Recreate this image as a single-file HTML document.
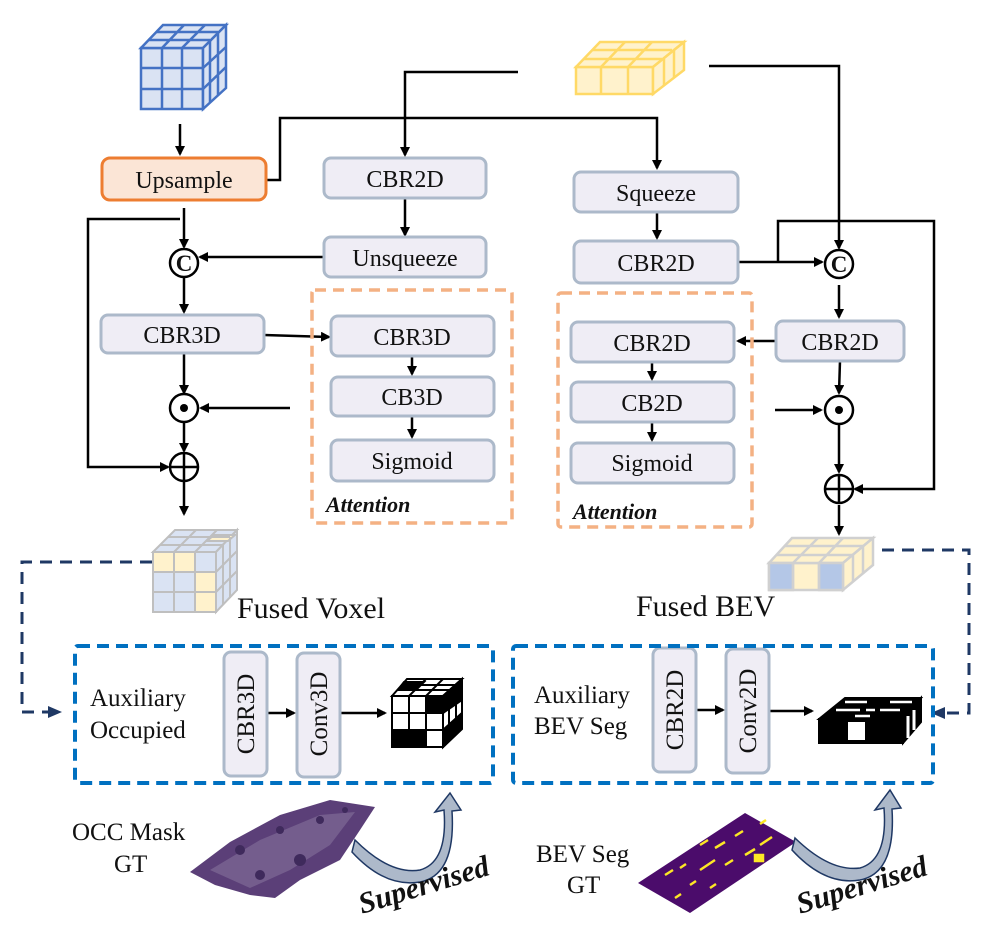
<!DOCTYPE html>
<html><head><meta charset="utf-8"><style>
html,body{margin:0;padding:0;background:#fff;width:997px;height:931px;overflow:hidden}
text{font-family:"Liberation Serif",serif;fill:#111}
</style></head><body>
<svg width="997" height="931" viewBox="0 0 997 931" xmlns="http://www.w3.org/2000/svg">
<defs>
<marker id="a" markerWidth="10" markerHeight="10" refX="8" refY="5" orient="auto" markerUnits="userSpaceOnUse"><path d="M0,0 L10,5 L0,10 Z" fill="#000"/></marker>
<marker id="n" markerWidth="14" markerHeight="12" refX="12" refY="6" orient="auto" markerUnits="userSpaceOnUse"><path d="M0,0 L14,6 L0,12 Z" fill="#1f3864"/></marker>
</defs>
<g stroke="#4472c4" stroke-width="2.5" fill="#dae3f3">
<path d="M141,48 L203,48 L203,109 L141,109 Z"/>
<path d="M141,48 L163,25 L226,25 L203,48 Z"/>
<path d="M203,48 L226,25 L226,88 L203,109 Z"/>
<path d="M162,48V109M182,48V109M141,68H203M141,89H203M148,40H210M156,32H218M162,48L184,25M182,48L205,25M210,41V102M218,33V95M203,68L226,47M203,89L226,67" fill="none"/>
</g>
<g stroke="#ffd966" stroke-width="2.5" fill="#fff2cc">
<path d="M576,67 L653,67 L653,94 L576,94 Z"/>
<path d="M576,67 L600,42 L684,42 L653,67 Z"/>
<path d="M653,67 L684,42 L684,70 L653,94 Z"/>
<path d="M601,67V94M628,67V94M584,59H662M592,50H672M601,67L625,42M628,67L652,42M664,59V86M674,50V78" fill="none"/>
</g>
<g stroke="#000" stroke-width="2.5" fill="none">
<path d="M518,72 H405 V155" marker-end="url(#a)"/>
<path d="M267,180 H280 V118 H657 V168" marker-end="url(#a)"/>
<path d="M709,66 H839 V248" marker-end="url(#a)"/>
<path d="M180,124 V154" marker-end="url(#a)"/>
<path d="M184,208 V247" marker-end="url(#a)"/>
<path d="M180,219 H88 V467 H168" marker-end="url(#a)"/>
<path d="M323,257 H200" marker-end="url(#a)"/>
<path d="M405,198 V235" marker-end="url(#a)"/>
<path d="M184,278 V312" marker-end="url(#a)"/>
<path d="M264,335 L329,337" marker-end="url(#a)"/>
<path d="M184,353 L184,393" marker-end="url(#a)"/>
<path d="M290,408 H201" marker-end="url(#a)"/>
<path d="M184,423 V451" marker-end="url(#a)"/>
<path d="M184,482 V514" marker-end="url(#a)"/>
<path d="M412,356 V374" marker-end="url(#a)"/>
<path d="M412,416 V437" marker-end="url(#a)"/>
<path d="M657,212 V238" marker-end="url(#a)"/>
<path d="M738,262 H822" marker-end="url(#a)"/>
<path d="M778,262 V221 H934 V489 H855" marker-end="url(#a)"/>
<path d="M839,285 V317" marker-end="url(#a)"/>
<path d="M776,341 H738" marker-end="url(#a)"/>
<path d="M840,361 L839,393" marker-end="url(#a)"/>
<path d="M775,410 H821" marker-end="url(#a)"/>
<path d="M839,425 V472" marker-end="url(#a)"/>
<path d="M839,505 V534" marker-end="url(#a)"/>
<path d="M652,362 V379" marker-end="url(#a)"/>
<path d="M652,422 V440" marker-end="url(#a)"/>
<path d="M267,713 H294" marker-end="url(#a)"/>
<path d="M340,713 H385" marker-end="url(#a)"/>
<path d="M696,710 H723" marker-end="url(#a)"/>
<path d="M769,711 H812" marker-end="url(#a)"/>
</g>
<g stroke="#000" stroke-width="2.5" fill="#fff">
<circle cx="184" cy="263" r="14"/><circle cx="839" cy="264" r="14"/>
<circle cx="184" cy="408" r="14"/><circle cx="839" cy="410" r="14"/>
<circle cx="184" cy="467" r="14"/><circle cx="839" cy="489" r="14"/>
</g>
<g font-weight="bold" font-size="23" text-anchor="middle">
<text x="184" y="271">C</text><text x="839" y="272">C</text>
</g>
<circle cx="184" cy="408" r="4" fill="#000"/><circle cx="839" cy="410" r="4" fill="#000"/>
<path d="M184,453V481M170,467H198M839,475V503M825,489H853" stroke="#000" stroke-width="2.5"/>
<rect x="312" y="290" width="200" height="233" rx="3" fill="none" stroke="#f4b183" stroke-width="3.5" stroke-dasharray="11,7"/>
<rect x="558" y="293" width="194" height="234" rx="3" fill="none" stroke="#f4b183" stroke-width="3.5" stroke-dasharray="11,7"/>
<rect x="102" y="158" width="164" height="42" rx="8" fill="#fbe5d6" stroke="#ed7d31" stroke-width="3"/>
<g fill="#efedf5" stroke="#acb9ca" stroke-width="3">
<rect x="324" y="158" width="162" height="40" rx="7"/>
<rect x="324" y="237" width="162" height="40" rx="7"/>
<rect x="101" y="315" width="163" height="38" rx="7"/>
<rect x="331" y="316" width="163" height="40" rx="7"/>
<rect x="331" y="377" width="163" height="39" rx="7"/>
<rect x="331" y="440" width="163" height="41" rx="7"/>
<rect x="574" y="172" width="164" height="40" rx="7"/>
<rect x="574" y="241" width="164" height="42" rx="7"/>
<rect x="776" y="321" width="128" height="40" rx="7"/>
<rect x="571" y="322" width="163" height="40" rx="7"/>
<rect x="571" y="382" width="163" height="40" rx="7"/>
<rect x="571" y="443" width="163" height="40" rx="7"/>
<rect x="224" y="652" width="43" height="124" rx="7"/>
<rect x="297" y="653" width="43" height="124" rx="7"/>
<rect x="653" y="648" width="43" height="124" rx="7"/>
<rect x="726" y="649" width="43" height="124" rx="7"/>
</g>
<g font-size="24" text-anchor="middle">
<text x="184" y="188">Upsample</text>
<text x="405" y="187">CBR2D</text>
<text x="405" y="266">Unsqueeze</text>
<text x="182" y="343">CBR3D</text>
<text x="412" y="345">CBR3D</text>
<text x="412" y="405">CB3D</text>
<text x="412" y="469">Sigmoid</text>
<text x="656" y="201">Squeeze</text>
<text x="656" y="271">CBR2D</text>
<text x="840" y="350">CBR2D</text>
<text x="652" y="351">CBR2D</text>
<text x="652" y="411">CB2D</text>
<text x="652" y="471">Sigmoid</text>
</g>
<g font-size="25" text-anchor="middle">
<text transform="translate(254,714) rotate(-90)">CBR3D</text>
<text transform="translate(327,714) rotate(-90)">Conv3D</text>
<text transform="translate(683,710) rotate(-90)">CBR2D</text>
<text transform="translate(756,711) rotate(-90)">Conv2D</text>
</g>
<g font-size="22" font-weight="bold" font-style="italic">
<text x="326" y="512">Attention</text>
<text x="573" y="519">Attention</text>
</g>
<g stroke="#bfbfbf" stroke-width="2" fill="#dae3f3">
<path d="M153,552 L216,552 L216,612 L153,612 Z"/>
<path d="M153,552 L175,530 L237,530 L216,552 Z"/>
<path d="M216,552 L237,530 L237,590 L216,612 Z"/>
<rect x="153" y="552" width="21" height="20" fill="#fff2cc"/><rect x="174" y="552" width="21" height="20" fill="#fff2cc"/>
<rect x="195" y="572" width="21" height="20" fill="#fff2cc"/><rect x="195" y="592" width="21" height="20" fill="#fff2cc"/>
<path d="M214,535 L235,535 L228,541 L207,541Z" fill="#fff2cc"/>
<path d="M174,552V612M195,552V612M153,572H216M153,592H216M160,545H223M168,537H230M174,552L196,530M195,552L217,530M223,545V605M230,537V598M216,572L237,551M216,592L237,571" fill="none"/>
</g>
<g stroke="#d0d0d0" stroke-width="2.5" fill="#fff2cc">
<path d="M769,563 L843,563 L843,590 L769,590 Z"/>
<path d="M769,563 L792,538 L873,538 L843,563 Z" />
<path d="M843,563 L873,538 L873,565 L843,590 Z"/>
<rect x="769" y="563" width="24" height="27" fill="#b4c7e7"/><rect x="819" y="563" width="24" height="27" fill="#b4c7e7"/>
<path d="M793,563V590M819,563V590M777,555H853M785,546H863M793,563L818,538M819,563L843,538M853,555V582M863,546V574" fill="none"/>
</g>
<g font-size="30">
<text x="237" y="618">Fused Voxel</text>
<text x="636" y="616">Fused BEV</text>
</g>
<path d="M152,562 H22 V712 H60" fill="none" stroke="#1f3864" stroke-width="3" stroke-dasharray="12,8" marker-end="url(#n)"/>
<path d="M882,550 H969 V713 H933" fill="none" stroke="#1f3864" stroke-width="3" stroke-dasharray="12,8" marker-end="url(#n)"/>
<rect x="75" y="646" width="418" height="137" rx="3" fill="none" stroke="#0070c0" stroke-width="4" stroke-dasharray="12,7"/>
<rect x="513" y="646" width="420" height="137" rx="3" fill="none" stroke="#0070c0" stroke-width="4" stroke-dasharray="12,7"/>
<g font-size="25">
<text x="90" y="706">Auxiliary</text><text x="90" y="738">Occupied</text>
<text x="534" y="703">Auxiliary</text><text x="534" y="734">BEV Seg</text>
<text x="72" y="840">OCC Mask</text><text x="114" y="872">GT</text>
<text x="536" y="862">BEV Seg</text><text x="567" y="893">GT</text>
</g>
<g stroke="#000" stroke-width="2" fill="#fff">
<path d="M392,696 L443,696 L443,747 L392,747 Z"/>
<path d="M392,696 L407,679 L462,679 L443,696 Z"/>
<path d="M443,696 L462,679 L462,729 L443,747 Z"/>
<rect x="392" y="730" width="34" height="17" fill="#000"/>
<rect x="426" y="696" width="17" height="17" fill="#000"/>
<path d="M404,682 L424,682 L416,690 L398,690Z" fill="#000"/>
<path d="M443,696 L462,679 L462,700 L443,713Z" fill="#000"/>
<path d="M443,730 L462,713 L462,729 L443,747Z" fill="#000"/>
<path d="M409,696V747M426,696V747M392,713H443M392,730H443M397,690H449M402,685H456M409,696L426,679M426,696L443,679M449,690V741M456,685V735M443,713L462,696M443,730L462,713" fill="none"/>
</g>
<g stroke="#000" stroke-width="2">
<path d="M819,719 L903,719 L903,743 L819,743 Z" fill="#000"/>
<path d="M819,719 L845,698 L921,698 L903,719 Z" fill="#000"/>
<path d="M903,719 L921,698 L921,722 L903,743 Z" fill="#000"/>
<rect x="847" y="721" width="19" height="20" fill="#fff"/>
<path d="M845,702H867M890,702H912M836,710H860M866,710H875M880,710H900M855,716H870" stroke="#fff" stroke-width="2.5"/>
<path d="M908,716V738M914,710V730" stroke="#fff" stroke-width="3"/>
</g>
<path d="M190,872 L230,842 L280,815 L330,800 L375,807 L360,830 L340,860 L300,880 L275,898 L250,895 L215,885 Z" fill="#5b3f78"/>
<path d="M210,870 L260,840 L320,815 L355,812 L330,845 L290,870 L250,888 Z" fill="#7a6592" opacity="0.8"/>
<g fill="#3f2a5c"><circle cx="240" cy="850" r="5"/><circle cx="280" cy="830" r="4"/><circle cx="300" cy="860" r="6"/><circle cx="320" cy="820" r="4"/><circle cx="260" cy="875" r="5"/><circle cx="345" cy="810" r="3"/></g>
<path d="M638,883 L745,813 L796,842 L690,913 Z" fill="#4b0c6b"/>
<g stroke="#fde725" stroke-width="2.5">
<path d="M700,845l8,-5M715,848l10,-6M735,836l8,-5M760,845l12,-8M745,855l10,-6M725,865l8,-5M700,870l15,-10M680,868l6,-4M665,875l8,-5M690,885l6,-4M710,888l6,-4M675,898l6,-4M760,824l6,-4"/>
<rect x="755" y="855" width="8" height="6" fill="#fde725"/>
</g>
<g stroke="#1f3864" stroke-width="1.5">
<path d="M355,840 Q390,875 420,870 Q448,862 444,810 L435,812 L450,793 L461,810 L452,811 Q456,875 420,882 Q385,888 352,852 Z" fill="#adb9ca"/>
<path d="M795,838 Q830,872 860,868 Q888,860 884,808 L875,810 L890,790 L901,808 L892,809 Q896,873 860,880 Q825,886 792,850 Z" fill="#adb9ca"/>
</g>
<g font-size="30" font-weight="bold" font-style="italic">
<text transform="translate(362,914) rotate(-17)">Supervised</text>
<text transform="translate(800,914) rotate(-17)">Supervised</text>
</g>
</svg>
</body></html>
